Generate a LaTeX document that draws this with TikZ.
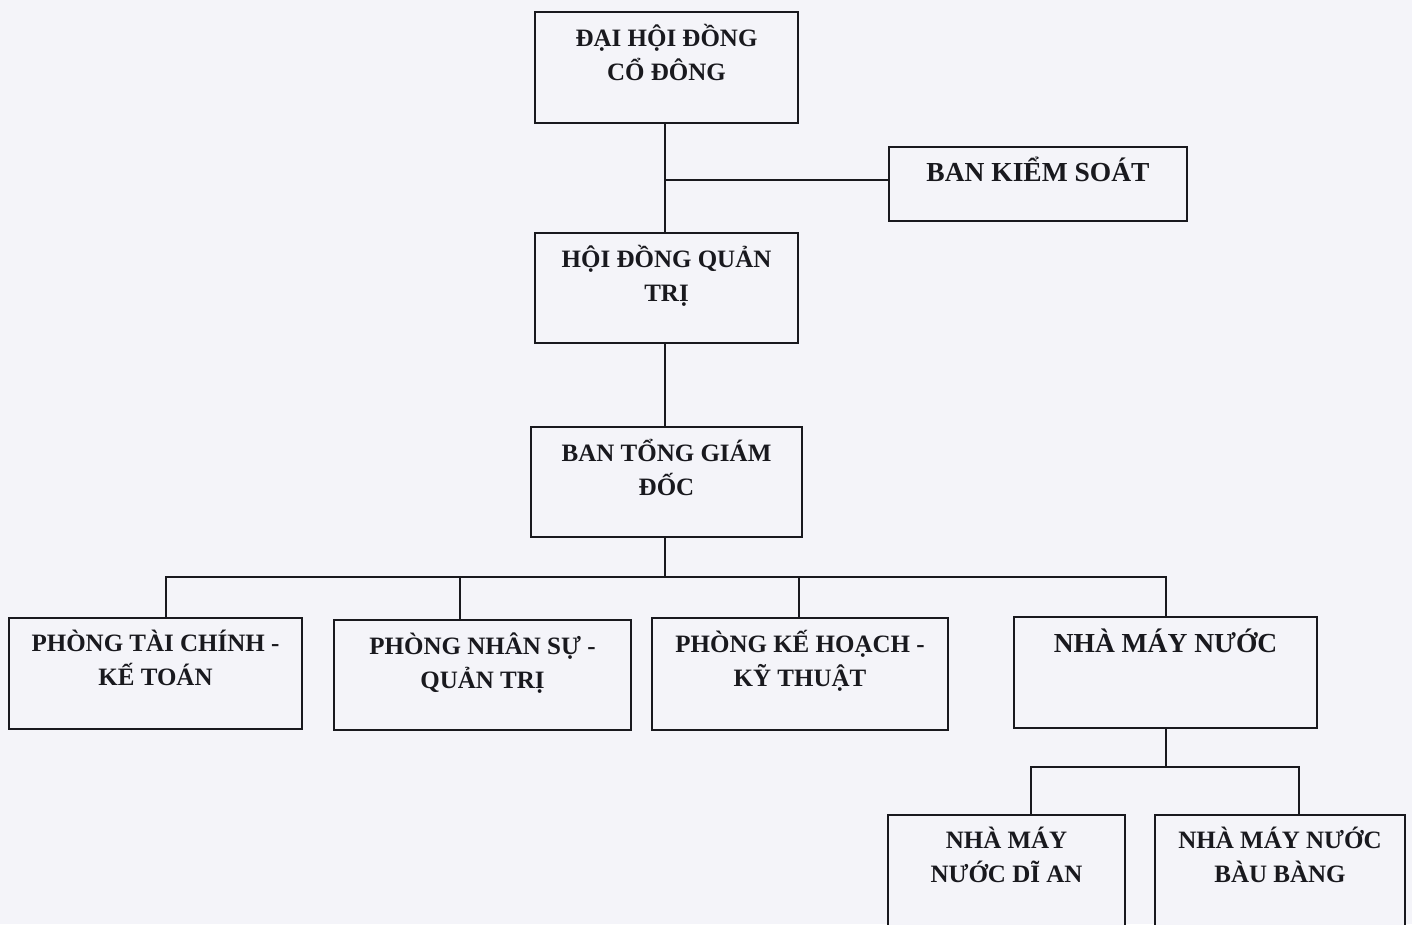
\documentclass[tikz,border=0pt]{standalone}
\usepackage{fontspec}
\setmainfont{Liberation Serif}
\usetikzlibrary{positioning}
\definecolor{paperBg}{RGB}{244, 244, 249}
\definecolor{inkDark}{RGB}{25, 25, 30}
\newcommand{\lAssembly}{ĐẠI HỘI ĐỒNG\\CỔ ĐÔNG}
\newcommand{\lAudit}{BAN KIỂM SOÁT}
\newcommand{\lBoard}{HỘI ĐỒNG QUẢN\\TRỊ}
\newcommand{\lDirectors}{BAN TỔNG GIÁM\\ĐỐC}
\newcommand{\lFinance}{PHÒNG TÀI CHÍNH -\\KẾ TOÁN}
\newcommand{\lStaff}{PHÒNG NHÂN SỰ -\\QUẢN TRỊ}
\newcommand{\lPlanning}{PHÒNG KẾ HOẠCH -\\KỸ THUẬT}
\newcommand{\lPlant}{NHÀ MÁY NƯỚC}
\newcommand{\lPlantDA}{NHÀ MÁY\\NƯỚC DĨ AN}
\newcommand{\lPlantBB}{NHÀ MÁY NƯỚC\\BÀU BÀNG}

\begin{document}
\begin{tikzpicture} [
        x=1pt, y=-1pt,
        unit/.style={draw=inkDark, line width=1.6pt, fill=paperBg, minimum height=111pt, inner sep=0pt},
        unit title/.style={anchor=north, align=center, inner sep=0pt, text=inkDark, font=\fontsize{25}{34}\selectfont\bfseries},
        unit title big/.style={unit title, font=\fontsize{27.5}{34}\selectfont\bfseries},
        link/.style={draw=inkDark, line width=1.4pt}
    ]

    \useasboundingbox (0,0) rectangle (1412,924);
    \fill[paperBg] (0,0) rectangle (1412,924);

    % boxes
    \path (666.5,67.5) node[unit, minimum width=263pt] (assembly) {};
    \path (1038,184) node[unit, minimum width=298pt, minimum height=74pt] (audit) {};
    \path (666.5,288) node[unit, minimum width=263pt, minimum height=110pt] (board) {};
    \path (666.5,482) node[unit, minimum width=271pt, minimum height=110pt] (directors) {};
    \path (155.5,673.5) node[unit, minimum width=293pt] (finance) {};
    \path (482.5,675) node[unit, minimum width=297pt, minimum height=110pt] (staff) {};
    \path (800,674) node[unit, minimum width=296pt, minimum height=112pt] (planning) {};
    \path (1165.5,672.5) node[unit, minimum width=303pt] (plant) {};
    \path (1006.5,870.5) node[unit, minimum width=237pt] (plant da) {};
    \path (1280,870.5) node[unit, minimum width=250pt] (plant bb) {};

    % titles
    \node[unit title, below=13pt of assembly.north] (assembly title) {\lAssembly};
    \node[unit title big, below=11pt of audit.north] (audit title) {\lAudit};
    \node[unit title, below=13pt of board.north] (board title) {\lBoard};
    \node[unit title, below=13pt of directors.north] (directors title) {\lDirectors};
    \node[unit title, below=13pt of finance.north] (finance title) {\lFinance};
    \node[unit title, below=13pt of staff.north] (staff title) {\lStaff};
    \node[unit title, below=13pt of planning.north] (planning title) {\lPlanning};
    \node[unit title big, below=12pt of plant.north] (plant title) {\lPlant};
    \node[unit title, below=13pt of plant da.north] (plant da title) {\lPlantDA};
    \node[unit title, below=13pt of plant bb.north] (plant bb title) {\lPlantBB};

    % connectors
    \coordinate (bus) at (665,577);
    \coordinate (sub bus) at (1166,767);
    \path[link] ([xshift=-1.5pt]assembly.south) -- ([xshift=-1.5pt]board.north);
    \path[link] ([yshift=4pt]audit.west) -- ([yshift=4pt]audit.west -| bus);
    \path[link] ([xshift=-1.5pt]board.south) -- ([xshift=-1.5pt]directors.north);
    \path[link] ([xshift=-1.5pt]directors.south) -- (bus);
    \path[link] ([xshift=10.5pt]finance.north) |- (bus) -| ([xshift=0.5pt]plant.north);
    \path[link] ([xshift=-22.5pt]staff.north) -- ([xshift=-22.5pt]staff.north |- bus);
    \path[link] ([xshift=-1pt]planning.north) -- ([xshift=-1pt]planning.north |- bus);
    \path[link] ([xshift=0.5pt]plant.south) -- (sub bus);
    \path[link] ([xshift=24.5pt]plant da.north) |- (sub bus) -| ([xshift=19pt]plant bb.north);

\end{tikzpicture}
\end{document}
